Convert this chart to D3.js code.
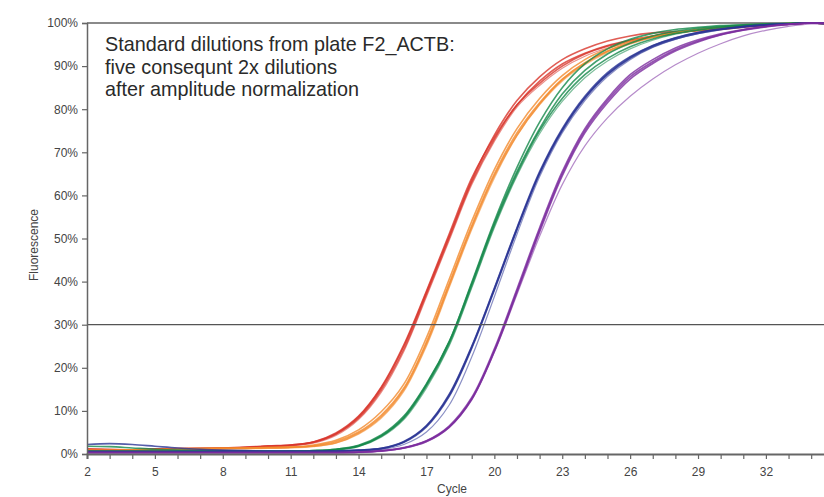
<!DOCTYPE html>
<html><head><meta charset="utf-8">
<script src="https://cdn.jsdelivr.net/npm/d3@7"></script>
<style>body{margin:0;background:#fff;}svg{display:block;font-family:"Liberation Sans",Arial,sans-serif;}</style>
</head><body><svg id="c" width="824" height="497"></svg>
<script>
// cycles 2..35
const cycles = d3.range(2, 36);
const xTickLabels = [2,5,8,11,14,17,20,23,26,29,32];
const yTicks = [0,10,20,30,40,50,60,70,80,90,100];
const threshold = 30;
const titleLines = ["Standard dilutions from plate F2_ACTB:", "five consequnt 2x dilutions", "after amplitude normalization"];

const red1 = [1.2,1.1,1.0,1.1,1.3,1.3,1.4,1.6,1.9,2.1,2.8,4.7,8.6,15.3,25,37.5,50.5,63.5,74,82,87.5,91.5,94,95.8,97,97.7,98,98.2,98.5,99,99.4,99.7,100,99.8];
const red2 = [1.0,1.0,1.0,1.1,1.2,1.2,1.3,1.5,1.8,2.0,2.7,4.6,8.3,14.8,24.3,37,50,63,73,81,86.5,90.5,93,94.8,96,97,97.8,98.4,98.9,99.3,99.6,99.8,100,99.8];
const red3 = [0.9,0.9,1.0,1.0,1.1,1.2,1.3,1.4,1.7,1.9,2.5,4.3,8.0,14.3,23.8,36.5,49.5,62.5,72.5,80.5,85.5,89.5,92.3,94.2,95.6,96.7,97.6,98.3,98.8,99.2,99.5,99.8,100,99.8];
const red4 = [1.1,1.0,1.0,1.2,1.2,1.3,1.4,1.5,1.8,2.1,2.8,4.9,8.8,15.5,25.3,37.8,51,64,73.5,81,86,90,92.8,94.6,95.9,96.9,97.7,98.3,98.8,99.2,99.6,99.8,100,99.7];

const orange1 = [0.8,0.8,0.9,1.0,1.1,1.2,1.3,1.4,1.5,1.6,2.1,3.2,5.6,9.8,16.2,27,40.5,54,66,75.5,82.5,87.8,91.5,94,95.8,97,97.8,98.5,99,99.4,99.7,99.9,100,99.8];
const orange2 = [0.8,0.8,0.9,1.0,1.1,1.2,1.3,1.3,1.4,1.5,1.9,2.9,5.1,9.0,15.3,26,39.5,53,65,74.5,81.5,87,90.8,93.5,95.4,96.8,97.7,98.4,98.9,99.3,99.6,99.8,100,99.8];
const orange3 = [0.7,0.7,0.8,0.9,1.0,1.1,1.2,1.2,1.3,1.4,1.7,2.5,4.6,8.3,14.5,25,38.5,52,64,73.8,81,86.5,90.3,93.1,95.1,96.6,97.6,98.3,98.8,99.3,99.6,99.8,100,99.8];
const orange4 = [0.9,0.9,0.9,1.0,1.2,1.3,1.3,1.4,1.5,1.6,1.8,2.6,4.8,8.6,14.9,25.5,39,52.5,64.5,74,81.2,86.8,90.6,93.4,95.3,96.7,97.7,98.4,98.9,99.3,99.6,99.8,100,99.8];

const green1 = [1.8,1.7,1.4,1.1,0.9,0.8,0.7,0.7,0.7,0.7,0.8,1.1,2.0,4.4,8.8,16.3,26,39.5,53.5,65.5,75.5,83.5,89,92.8,95.3,97,98.1,98.8,99.2,99.5,99.7,99.9,100,99.8];
const green2 = [0.6,0.6,0.6,0.6,0.6,0.6,0.6,0.6,0.6,0.6,0.7,1.0,1.8,4.1,8.3,15.8,25.5,39,53,65,75,82.5,88,91.8,94.5,96.3,97.6,98.4,99,99.4,99.7,99.9,100,99.8];
const green3 = [0.5,0.5,0.5,0.5,0.5,0.5,0.5,0.5,0.5,0.6,0.6,0.9,1.7,3.9,8.0,15.3,25,38.5,52.5,64.5,74.3,81.8,87.3,91.2,94,96,97.4,98.3,98.9,99.3,99.6,99.8,100,99.8];
const green4 = [0.7,0.7,0.7,0.7,0.7,0.7,0.7,0.7,0.7,0.7,0.8,1.1,1.9,4.2,8.5,16.1,26,39.8,54,66.5,77,85,90.5,94,96.2,97.6,98.5,99,99.4,99.6,99.8,99.9,100,99.8];

const blue1 = [2.2,2.4,2.2,1.8,1.4,1.1,0.9,0.8,0.7,0.7,0.7,0.7,0.9,1.3,2.8,6.5,13.6,24.8,38.3,52.3,65.2,75.2,82.7,88.2,92,94.7,96.5,97.8,98.6,99.2,99.6,99.8,100,99.8];
const blue2 = [0.5,0.5,0.5,0.5,0.5,0.5,0.5,0.5,0.5,0.5,0.5,0.6,0.8,1.2,2.7,6.3,13.3,24.5,38,52,65,75,82.5,88,91.8,94.5,96.3,97.6,98.5,99.1,99.5,99.8,100,99.8];
const blue3 = [0.4,0.4,0.4,0.4,0.4,0.4,0.4,0.4,0.4,0.4,0.5,0.5,0.7,1.0,2.2,5.1,11.3,22.5,36.5,51,64.3,74.5,82,87.6,91.5,94.3,96.2,97.5,98.4,99,99.5,99.8,100,99.8];
const blue4 = [0.6,0.6,0.6,0.6,0.6,0.6,0.6,0.6,0.6,0.6,0.6,0.7,0.9,1.3,2.9,6.6,13.8,25,38.5,52.5,65.5,75.5,83,88.5,92.2,94.8,96.6,97.8,98.6,99.2,99.6,99.8,100,99.8];

const purple1 = [0.3,0.3,0.3,0.3,0.3,0.3,0.3,0.3,0.3,0.3,0.3,0.3,0.4,0.7,1.4,3.0,6.3,12.8,24,37.8,52,65,75,82,87.5,91,93.8,95.8,97.3,98.4,99.2,99.7,100,99.8];
const purple2 = [0.4,0.4,0.4,0.4,0.4,0.4,0.4,0.4,0.4,0.4,0.4,0.4,0.5,0.8,1.5,3.1,6.5,13.1,24.4,38.3,52.5,65.5,75.5,82.5,88,91.5,94.2,96.1,97.5,98.5,99.2,99.7,100,99.8];
const purple3 = [0.2,0.2,0.2,0.2,0.2,0.2,0.2,0.2,0.2,0.2,0.2,0.2,0.3,0.6,1.3,2.8,6.1,12.5,23.6,37,50.5,62.5,71.5,78,83,87,90.3,93,95.2,97,98.3,99.2,99.8,99.6];
const purple4 = [0.3,0.3,0.3,0.3,0.3,0.3,0.3,0.3,0.3,0.3,0.3,0.3,0.4,0.7,1.4,2.9,6.2,12.7,23.8,37.5,51.5,64.5,74.5,81.5,87,90.6,93.5,95.6,97.2,98.3,99.1,99.6,100,99.8];

const groups = [
  {color:"#d8352a", reps:[red1, red2, red3, red4]},
  {color:"#f38a2c", reps:[orange1, orange2, orange3, orange4]},
  {color:"#14884a", reps:[green1, green2, green3, green4]},
  {color:"#2b3495", reps:[blue1, blue2, blue3, blue4]},
  {color:"#7a2b9e", reps:[purple1, purple2, purple3, purple4]}
];

const svg = d3.select("#c");
const x = d3.scaleLinear().domain([2, 35]).range([87, 833.8]);
const y = d3.scaleLinear().domain([0, 100]).range([454, 23]);

// top frame line at 100%
svg.append("line").attr("x1", 87).attr("x2", 824).attr("y1", y(100)).attr("y2", y(100))
  .attr("stroke", "#8a8a8a").attr("stroke-width", 2);

// curves
const line = d3.line().x((d,i)=>x(cycles[i])).y(d=>y(d)).curve(d3.curveCatmullRom.alpha(0.5));
const gC = svg.append("g");
groups.forEach(g => {
  g.reps.forEach((r, k) => {
    gC.append("path").attr("d", line(r)).attr("fill", "none")
      .attr("stroke", g.color).attr("stroke-width", k===2 ? 1.2 : 1.6)
      .attr("stroke-opacity", k===2 ? 0.55 : 0.8);
  });
});

// threshold line
svg.append("line").attr("x1", 87).attr("x2", 824).attr("y1", y(threshold)).attr("y2", y(threshold))
  .attr("stroke", "#555").attr("stroke-width", 1.2);

// y axis
const yAxis = d3.axisLeft(y).tickValues(yTicks).tickFormat(d => d + "%").tickSize(5).tickPadding(4);
const gy = svg.append("g").attr("transform", "translate(87,0)").call(yAxis);
gy.select(".domain").attr("stroke", "#666").attr("stroke-width", 1.5);
gy.selectAll(".tick line").attr("stroke", "#666").attr("stroke-width", 1.2);
gy.selectAll(".tick text").attr("fill", "#444").style("font-size", "12px");

// x axis
const xAxis = d3.axisBottom(x).tickValues(d3.range(2, 36)).tickSize(5)
  .tickFormat(d => xTickLabels.includes(d) ? d : "").tickPadding(8);
const gx = svg.append("g").attr("transform", "translate(0,454)").call(xAxis);
gx.select(".domain").attr("stroke", "#666").attr("stroke-width", 2);
gx.selectAll(".tick line").attr("stroke", "#666").attr("stroke-width", 1.2);
gx.selectAll(".tick text").attr("fill", "#444").style("font-size", "12px");

// axis titles
svg.append("text").attr("transform", "translate(38,245) rotate(-90)").attr("text-anchor", "middle")
  .attr("fill", "#444").style("font-size", "12px").text("Fluorescence");
svg.append("text").attr("x", 452).attr("y", 493).attr("text-anchor", "middle")
  .attr("fill", "#444").style("font-size", "12px").text("Cycle");

// title
titleLines.forEach((t, i) => {
  svg.append("text").attr("x", 105).attr("y", 51 + i * 22.5).attr("fill", "#2a2a2a")
    .style("font-size", "19.8px").text(t);
});
</script></body></html>
